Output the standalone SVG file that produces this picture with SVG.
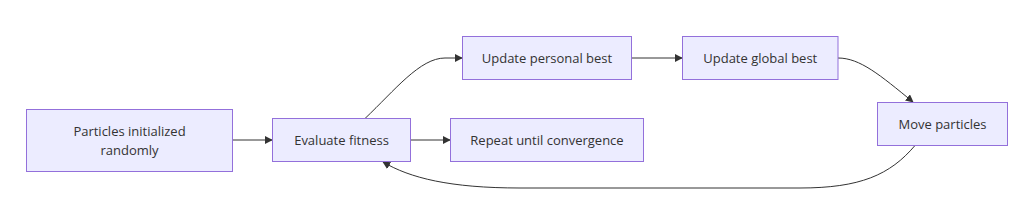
<svg xmlns="http://www.w3.org/2000/svg" width="1023" height="221" viewBox="0 0 1023 221">
<defs>
<style>
.node rect{fill:#ECECFF;stroke:#9370DB;stroke-width:1}
.node text{font-family:"Open Sans","DejaVu Sans",sans-serif;font-size:13px;fill:#333;text-anchor:middle;dominant-baseline:central}
.edges path{fill:none;stroke:#333;stroke-width:1}
</style>
<marker id="arr" viewBox="0 0 10 10" refX="9" refY="5" markerWidth="8" markerHeight="8" markerUnits="userSpaceOnUse" orient="auto">
<path d="M0,0 L10,5 L0,10 z" fill="#333"/>
</marker>
</defs>
<rect width="1023" height="221" fill="#ffffff"/>
<g class="edges">
<path d="M233,140 L272,140" marker-end="url(#arr)"/>
<path d="M410.5,140 L450,140" marker-end="url(#arr)"/>
<path d="M365,118.5 C395,90 420,58 445,58 L462,58" marker-end="url(#arr)"/>
<path d="M632,58 L682,58" marker-end="url(#arr)"/>
<path d="M838,58 C860,58 880,75 913,102" marker-end="url(#arr)"/>
<path d="M915,145.5 C890,175 860,188 800,188 L520,188 C450,188 410,178 383,162" marker-end="url(#arr)"/>
</g>
<g id="n1" class="node"><rect x="26.5" y="109.5" width="206" height="62"/><text x="129.5" y="130.5">Particles initialized</text><text x="129.5" y="150">randomly</text></g>
<g id="n2" class="node"><rect x="272.5" y="118.5" width="138" height="43"/><text x="341.5" y="140">Evaluate fitness</text></g>
<g id="n3" class="node"><rect x="462.5" y="36.5" width="169" height="43"/><text x="547" y="58">Update personal best</text></g>
<g id="n4" class="node"><rect x="682.5" y="36.5" width="155.5" height="43"/><text x="760.25" y="58">Update global best</text></g>
<g id="n5" class="node"><rect x="877.5" y="102.5" width="130" height="43"/><text x="942.5" y="124">Move particles</text></g>
<g id="n6" class="node"><rect x="450.5" y="118.5" width="193" height="43"/><text x="547" y="140">Repeat until convergence</text></g>
</svg>
